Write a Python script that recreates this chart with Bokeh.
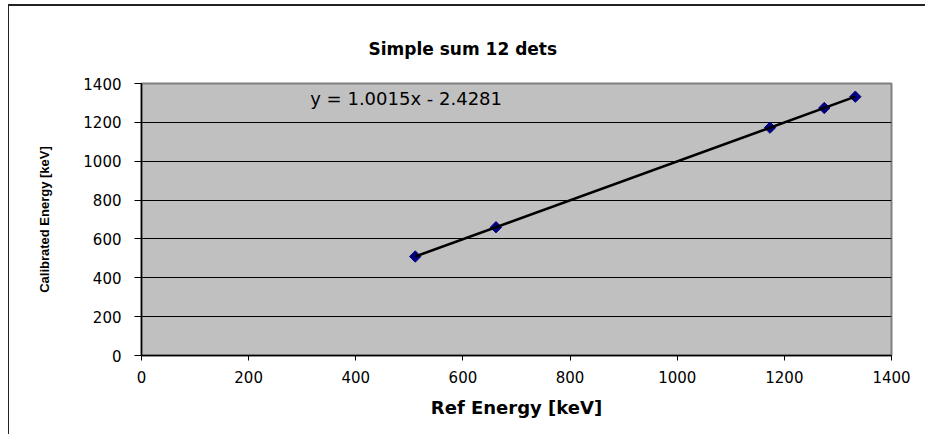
import numpy as np
from bokeh.plotting import figure
from bokeh.models import Label, FixedTicker
from bokeh.embed import file_html
from bokeh.resources import INLINE

# Data
ref_energy = [511.0, 661.7, 1173.2, 1274.5, 1332.5]
cal_energy = [509.4, 660.2, 1172.6, 1274.0, 1332.1]
slope = 1.0015
intercept = -2.4281
equation_text = "y = 1.0015x - 2.4281"
x_ticks = [0, 200, 400, 600, 800, 1000, 1200, 1400]
y_ticks = [0, 200, 400, 600, 800, 1000, 1200, 1400]
title_text = "Simple sum 12 dets"
x_label = "Ref Energy [keV]"
y_label = "Calibrated Energy [keV]"

FONT = "DejaVu Sans"

p = figure(width=917, height=430, x_range=(0, 1400), y_range=(0, 1400),
           output_backend="svg", toolbar_location=None,
           min_border_left=132, min_border_right=35,
           min_border_top=77, min_border_bottom=81,
           background_fill_color="#C0C0C0", border_fill_color="white")
p.styles = {"margin-left": "8px", "margin-top": "4px",
            "border-left": "1px solid #222222", "border-top": "2px solid #222222"}

p.title.text = title_text
p.title.align = "left"
p.title.offset = 227
p.title.standoff = 49
p.title.text_font = FONT
p.title.text_font_size = "17px"
p.title.text_font_style = "bold"
p.title.text_color = "black"

p.outline_line_color = "#808080"
p.outline_line_width = 2

p.xgrid.grid_line_color = None
p.ygrid.grid_line_color = "black"
p.ygrid.grid_line_width = 1

for ax in (p.xaxis[0], p.yaxis[0]):
    ax.axis_line_color = "black"
    ax.axis_line_width = 1.5
    ax.major_tick_line_color = "black"
    ax.minor_tick_line_color = None
    ax.major_tick_in = 0
    ax.major_label_text_font = FONT
    ax.major_label_text_font_size = "15px"
    ax.major_label_text_color = "black"
    ax.axis_label_text_color = "black"
    ax.axis_label_text_font_style = "bold"

p.xaxis[0].ticker = FixedTicker(ticks=x_ticks)
p.yaxis[0].ticker = FixedTicker(ticks=y_ticks)
p.xaxis[0].major_tick_out = 5
p.yaxis[0].major_tick_out = 7
p.xaxis[0].major_label_standoff = 10
p.yaxis[0].major_label_standoff = 13

p.xaxis[0].axis_label = x_label
p.xaxis[0].axis_label_text_font = FONT
p.xaxis[0].axis_label_text_font_size = "18px"
p.xaxis[0].axis_label_standoff = 11

p.yaxis[0].axis_label = y_label
p.yaxis[0].axis_label_text_font = "Liberation Sans"
p.yaxis[0].axis_label_text_font_size = "13px"
p.yaxis[0].axis_label_standoff = 28

# data points
p.scatter(ref_energy, cal_energy, marker="square", angle=np.pi / 4, size=8,
          fill_color="#000080", line_color="#000080")

# trendline
xs = np.array([min(ref_energy), max(ref_energy)])
p.line(xs, slope * xs + intercept, line_color="black", line_width=2.5)

p.add_layout(Label(x=315, y=1322, text=equation_text, text_font=FONT,
                   text_font_size="18px", text_color="black",
                   text_baseline="middle", text_align="left"))

open("out.html", "w").write(file_html(p, INLINE))
